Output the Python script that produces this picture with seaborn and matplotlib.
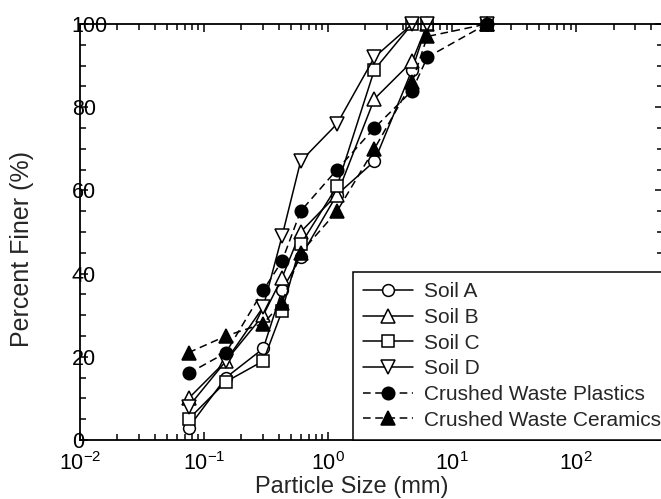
import matplotlib
matplotlib.use("Agg")
import matplotlib.pyplot as plt
import seaborn as sns
import numpy as np
from matplotlib.ticker import LogLocator, MultipleLocator, NullFormatter

# sieve sizes (mm) and percent finer
sieve_mm = [0.075, 0.15, 0.3, 0.425, 0.6, 1.18, 2.36, 4.75, 6.3, 19.0]
soil_a = [3, 15, 22, 36, 44, 59, 67, 89, 100, 100]
soil_b = [10, 19, 30, 39, 50, 59, 82, 91, 100, 100]
soil_c = [5, 14, 19, 31, 47, 61, 89, 100, 100, 100]
soil_d = [8, 19, 32, 49, 67, 76, 92, 100, 100, 100]
waste_plastics = [16, 21, 36, 43, 55, 65, 75, 84, 92, 100]
waste_ceramics = [21, 25, 28, 33, 45, 55, 70, 86, 97, 100]

series_names = ["Soil A", "Soil B", "Soil C", "Soil D",
                "Crushed Waste Plastics", "Crushed Waste Ceramics"]
series_values = [soil_a, soil_b, soil_c, soil_d, waste_plastics, waste_ceramics]
markers = ["o", "^", "s", "v", "o", "^"]
filled = [False, False, False, False, True, True]
dashed = [False, False, False, False, True, True]
marker_sizes = [8.5, 9.5, 8, 9.5, 9, 10]

sns.set_style("ticks")
plt.rcParams["font.family"] = ["Liberation Sans", "DejaVu Sans"]
plt.rcParams["mathtext.fontset"] = "custom"
plt.rcParams["mathtext.rm"] = "Liberation Sans"
plt.rcParams["mathtext.it"] = "Liberation Sans"
plt.rcParams["axes.unicode_minus"] = False

fig = plt.figure(figsize=(6.61, 4.99), dpi=100)
ax = fig.add_axes([80 / 661, 59 / 499, 583 / 661, 416 / 499])

for name, vals, mk, fill, dash, ms in zip(series_names, series_values, markers,
                                          filled, dashed, marker_sizes):
    sns.lineplot(x=sieve_mm, y=vals, ax=ax, color="black", label=name,
                 marker=mk, markersize=ms, mfc="black" if fill else "white",
                 mec="black", mew=1.1, linewidth=1.1,
                 linestyle=(0, (5, 3)) if dash else "-", clip_on=False)

ax.set_xscale("log")
ax.set_xlim(0.01, 500)
ax.set_ylim(0, 100)

ax.xaxis.set_major_locator(LogLocator(base=10, numticks=10))
ax.xaxis.set_minor_locator(LogLocator(base=10, subs=np.arange(2, 10), numticks=20))
ax.xaxis.set_minor_formatter(NullFormatter())
ax.yaxis.set_major_locator(MultipleLocator(20))
ax.yaxis.set_minor_locator(MultipleLocator(5))

ax.tick_params(which="both", direction="in", top=True, right=True,
               width=1.1, colors="black", labelsize=15.5)
ax.tick_params(which="major", length=6)
ax.tick_params(which="minor", length=4.5)
ax.tick_params(axis="x", pad=8.5)
ax.tick_params(axis="y", pad=6)
for lbl in ax.get_yticklabels():
    lbl.set_horizontalalignment("left")

for sp in ax.spines.values():
    sp.set_linewidth(1.3)
    sp.set_color("black")

ax.set_xlabel("Particle Size (mm)", fontsize=17, va="center")
ax.xaxis.set_label_coords(0.466, -0.113)
ax.set_ylabel("Percent Finer (%)", fontsize=18, va="center")
ax.yaxis.set_label_coords(-0.1, 0.46)

leg = ax.legend(loc="lower left", bbox_to_anchor=(0.468, 0.0, 0.6, 0.413),
                mode="expand", borderaxespad=0, fontsize=15, frameon=True,
                fancybox=False, framealpha=1, edgecolor="black",
                handlelength=2.4, handletextpad=0.5, labelspacing=0.32,
                borderpad=0.5, numpoints=1)
leg.get_frame().set_linewidth(1.1)

fig.savefig("out.png", dpi=100)
